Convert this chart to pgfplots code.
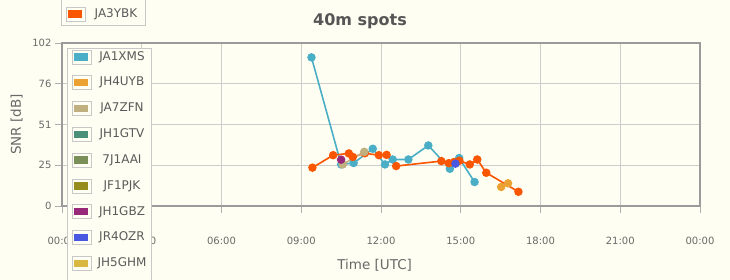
\documentclass[border=0pt]{standalone}
\usepackage{pgfplots}
\pgfplotsset{compat=1.18}
\usepackage{fontspec}
\setmainfont{DejaVu Sans}
\definecolor{bg}{RGB}{255,254,242}
\definecolor{cJAthree}{RGB}{250,85,0}
\definecolor{cJAone}{RGB}{74,175,198}
\definecolor{cJHfour}{RGB}{236,162,50}
\definecolor{cJAseven}{RGB}{192,176,128}
\definecolor{cJHonegtv}{RGB}{74,144,120}
\definecolor{cSeven}{RGB}{122,144,88}
\definecolor{cJFone}{RGB}{150,140,30}
\definecolor{cJHonegbz}{RGB}{152,40,120}
\definecolor{cJRfour}{RGB}{72,88,224}
\definecolor{cJHfive}{RGB}{216,184,64}
\definecolor{txt}{RGB}{105,105,105}
\definecolor{legtxt}{RGB}{90,90,90}
\definecolor{titletxt}{RGB}{85,85,85}
\definecolor{framec}{RGB}{155,155,155}
\definecolor{gridc}{RGB}{205,205,205}
\definecolor{legbord}{RGB}{200,200,200}
\begin{document}
\begin{tikzpicture}[x=1pt,y=1pt]
\clip (0,0) rectangle (730,280);
\fill[bg] (0,0) rectangle (730,280);
\begin{axis}[at={(62pt,74pt)}, anchor=south west, scale only axis,
  width=638pt, height=163pt,
  xmin=0, xmax=24, ymin=0, ymax=102,
  xtick={0,3,6,9,12,15,18,21,24},
  xticklabels={00:00,03:00,06:00,09:00,12:00,15:00,18:00,21:00,00:00},
  ytick={0,25.5,51,76.5,102},
  yticklabels={0,25,51,76,102},
  grid=major, major grid style={gridc, line width=0.8pt},
  axis line style={framec, line width=2.2pt},
  tick align=outside, tick pos=left, major tick length=7pt,
  major tick style={framec!80, line width=0.8pt},
  ticklabel style={font=\fontsize{10}{12}\selectfont, text=txt},
  xticklabel style={anchor=base, yshift=-31.5pt},
  yticklabel style={anchor=east},
  xlabel={Time [UTC]}, ylabel={SNR [dB]},
  label style={font=\fontsize{13.5}{16}\selectfont, text=txt},
  xlabel style={at={(axis description cs:0.49,-0.362)}, anchor=center},
  ylabel style={at={(axis description cs:-0.071,0.5)}, anchor=center},
  every axis plot/.append style={line width=1.6pt, mark=*, mark size=3.4pt},
]
\addplot[color=cJAone] coordinates {
(9.385,93.0) (10.50,26.0) (10.97,26.9) (11.69,35.8) (12.15,26.0) (12.44,29.1)
(13.03,29.1) (13.78,37.9) (14.59,23.3) (14.94,30.0) (15.52,15.0)};
\addplot[color=cJAthree] coordinates {
(9.42,24.0) (10.20,31.8) (10.79,32.9) (10.94,30.7) (11.39,33.0) (11.92,31.8)
(12.21,32.0) (12.57,25.0) (14.27,28.1) (14.55,26.8) (14.75,27.5) (14.95,28.3)
(15.34,26.0) (15.62,29.1) (15.96,20.8) (17.17,8.9)};
\addplot[color=cJAseven] coordinates {(10.56,26.0) (11.37,33.9)};
\addplot[color=cJHonegbz] coordinates {(10.50,29.0)};
\addplot[color=cJRfour] coordinates {(14.80,26.5)};
\addplot[color=cJHfour] coordinates {(16.52,11.9) (16.78,14.2)};
\end{axis}
\node[font=\fontsize{16}{19}\selectfont\bfseries, text=titletxt] at (360,259) {40m spots};
% legend (top, overflowing box)
\draw[legbord, fill=bg, line width=0.8pt] (61.3,290) rectangle (145.7,254.7);
\draw[legbord, fill=bg, line width=0.8pt] (66,273) rectangle (85.7,259);
\fill[cJAthree] (68,269.7) rectangle (82.3,262.3);
\node[font=\fontsize{12}{14}\selectfont, text=legtxt] at (116,266) {JA3YBK};
% legend (lower box)
\draw[legbord, fill=bg, line width=0.8pt] (67.3,231.7) rectangle (151.7,-10);
\foreach \c/\n [count=\i from 0] in {cJAone/JA1XMS, cJHfour/JH4UYB, cJAseven/JA7ZFN,
  cJHonegtv/JH1GTV, cSeven/7J1AAI, cJFone/JF1PJK, cJHonegbz/JH1GBZ,
  cJRfour/JR4OZR, cJHfive/JH5GHM} {
  \pgfmathsetmacro{\yy}{280-57-25.8*\i}
  \draw[legbord, fill=bg, line width=0.8pt] (72,\yy+7) rectangle (91.7,\yy-7);
  \fill[\c] (74,\yy+3.7) rectangle (88.3,\yy-3.7);
  \node[font=\fontsize{12}{14}\selectfont, text=legtxt] at (122,\yy) {\n};
}
\end{tikzpicture}
\end{document}
